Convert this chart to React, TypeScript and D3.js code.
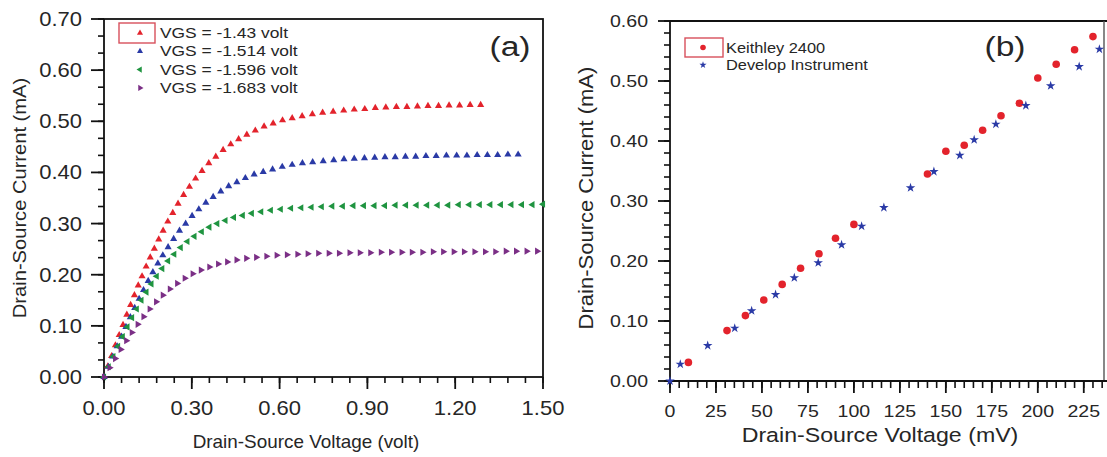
import React from "react";
import * as d3 from "d3";

// ---------- Panel (a) data: Vds (volt) / Id (mA) ----------
const vRed = [0, 0.013, 0.026, 0.039, 0.052, 0.065, 0.078, 0.091, 0.104, 0.117, 0.13, 0.144, 0.158, 0.172, 0.187, 0.202, 0.218, 0.235, 0.253, 0.272, 0.292, 0.313, 0.335, 0.358, 0.382, 0.407, 0.433, 0.46, 0.488, 0.517, 0.547, 0.578, 0.61, 0.643, 0.677, 0.712, 0.747, 0.783, 0.819, 0.855, 0.891, 0.927, 0.963, 0.999, 1.035, 1.071, 1.107, 1.143, 1.179, 1.215, 1.251, 1.287];
const iRed = [0, 0.021, 0.041, 0.062, 0.082, 0.102, 0.122, 0.141, 0.160, 0.179, 0.197, 0.216, 0.234, 0.251, 0.269, 0.286, 0.304, 0.321, 0.339, 0.356, 0.372, 0.388, 0.403, 0.418, 0.431, 0.444, 0.455, 0.465, 0.474, 0.482, 0.490, 0.496, 0.502, 0.506, 0.510, 0.514, 0.517, 0.519, 0.521, 0.523, 0.524, 0.526, 0.527, 0.528, 0.528, 0.529, 0.530, 0.530, 0.531, 0.531, 0.532, 0.532];

const vBlue = [0, 0.015, 0.03, 0.045, 0.06, 0.075, 0.09, 0.105, 0.12, 0.135, 0.151, 0.167, 0.184, 0.201, 0.219, 0.238, 0.258, 0.279, 0.301, 0.324, 0.348, 0.373, 0.399, 0.426, 0.454, 0.483, 0.513, 0.544, 0.576, 0.609, 0.643, 0.678, 0.713, 0.749, 0.785, 0.82, 0.855, 0.89, 0.925, 0.96, 0.995, 1.03, 1.065, 1.1, 1.135, 1.17, 1.205, 1.24, 1.275, 1.31, 1.345, 1.38, 1.415];
const iBlue = [0, 0.020, 0.040, 0.060, 0.079, 0.098, 0.117, 0.135, 0.153, 0.170, 0.188, 0.205, 0.222, 0.238, 0.254, 0.270, 0.286, 0.300, 0.315, 0.328, 0.341, 0.352, 0.363, 0.373, 0.381, 0.389, 0.396, 0.401, 0.406, 0.411, 0.415, 0.418, 0.420, 0.422, 0.424, 0.426, 0.427, 0.428, 0.429, 0.430, 0.430, 0.431, 0.431, 0.432, 0.432, 0.433, 0.433, 0.433, 0.434, 0.434, 0.434, 0.435, 0.435];

const vGreen = [0, 0.016, 0.032, 0.048, 0.064, 0.08, 0.096, 0.112, 0.128, 0.145, 0.162, 0.18, 0.199, 0.219, 0.24, 0.262, 0.285, 0.309, 0.334, 0.36, 0.387, 0.415, 0.444, 0.474, 0.505, 0.537, 0.57, 0.604, 0.639, 0.674, 0.709, 0.744, 0.78, 0.816, 0.852, 0.888, 0.924, 0.96, 0.996, 1.032, 1.068, 1.104, 1.14, 1.176, 1.212, 1.248, 1.284, 1.32, 1.356, 1.392, 1.428, 1.464, 1.5];
const iGreen = [0, 0.020, 0.040, 0.060, 0.079, 0.098, 0.116, 0.133, 0.150, 0.166, 0.182, 0.197, 0.212, 0.227, 0.240, 0.253, 0.265, 0.275, 0.284, 0.293, 0.300, 0.306, 0.312, 0.316, 0.320, 0.323, 0.326, 0.328, 0.330, 0.331, 0.332, 0.333, 0.334, 0.334, 0.335, 0.335, 0.335, 0.335, 0.336, 0.336, 0.336, 0.336, 0.336, 0.336, 0.337, 0.337, 0.337, 0.337, 0.337, 0.337, 0.337, 0.337, 0.338];

const vPurple = [0, 0.019, 0.038, 0.057, 0.076, 0.095, 0.115, 0.135, 0.156, 0.178, 0.201, 0.225, 0.25, 0.276, 0.303, 0.331, 0.36, 0.39, 0.421, 0.453, 0.486, 0.52, 0.555, 0.59, 0.625, 0.661, 0.696, 0.732, 0.768, 0.803, 0.839, 0.874, 0.91, 0.946, 0.981, 1.017, 1.052, 1.088, 1.124, 1.159, 1.195, 1.23, 1.266, 1.302, 1.337, 1.373, 1.408, 1.444, 1.48];
const iPurple = [0, 0.018, 0.036, 0.054, 0.071, 0.087, 0.103, 0.118, 0.133, 0.147, 0.160, 0.172, 0.183, 0.193, 0.202, 0.209, 0.215, 0.221, 0.225, 0.229, 0.232, 0.234, 0.236, 0.238, 0.239, 0.240, 0.241, 0.242, 0.242, 0.242, 0.243, 0.243, 0.243, 0.244, 0.244, 0.244, 0.244, 0.244, 0.245, 0.245, 0.245, 0.245, 0.245, 0.245, 0.245, 0.246, 0.246, 0.246, 0.246];

const legendA = ["VGS = -1.43 volt", "VGS = -1.514 volt", "VGS = -1.596 volt", "VGS = -1.683 volt"];
const xTicksA = [0, 0.3, 0.6, 0.9, 1.2, 1.5];
const yTicksA = [0, 0.1, 0.2, 0.3, 0.4, 0.5, 0.6, 0.7];

// ---------- Panel (b) data: Vds (mV) / Id (mA) ----------
const keithleyV = [10, 31, 41, 51, 61, 71, 81, 90, 100, 140, 150, 160, 170, 180, 190, 200, 210, 220, 230];
const keithleyI = [0.031, 0.084, 0.109, 0.135, 0.161, 0.188, 0.212, 0.238, 0.261, 0.345, 0.383, 0.393, 0.418, 0.442, 0.463, 0.505, 0.528, 0.552, 0.574];
const developV = [0, 5.6, 20.5, 35.2, 44.4, 57.4, 67.6, 80.6, 93.3, 104.2, 116.3, 130.8, 143.5, 157.6, 165.4, 177.2, 193.5, 207, 222.5, 233.5];
const developI = [0, 0.028, 0.059, 0.088, 0.117, 0.144, 0.172, 0.197, 0.227, 0.258, 0.289, 0.322, 0.349, 0.376, 0.402, 0.428, 0.459, 0.492, 0.524, 0.553];

const legendB = ["Keithley 2400", "Develop Instrument"];
const xTicksB = [0, 25, 50, 75, 100, 125, 150, 175, 200, 225];
const yTicksB = [0, 0.1, 0.2, 0.3, 0.4, 0.5, 0.6];

const FONT = "'Liberation Sans', Arial, Helvetica, sans-serif";
const RED = "#e3232c";
const BLUE = "#2a3aa6";
const GREEN = "#1f9440";
const PURPLE = "#7b2f86";
const TXT = "#262626";
const AX = "#111";

type Series = { v: number[]; i: number[]; color: string; rot: number };

const seriesA: Series[] = [
  { v: vRed, i: iRed, color: RED, rot: 0 },
  { v: vBlue, i: iBlue, color: BLUE, rot: 0 },
  { v: vGreen, i: iGreen, color: GREEN, rot: -90 },
  { v: vPurple, i: iPurple, color: PURPLE, rot: 90 },
];

function range(a: number, b: number, s: number) {
  const out: number[] = [];
  const n = Math.round((b - a) / s);
  for (let k = 0; k <= n; k++) out.push(a + k * s);
  return out;
}

function SText(props: {
  x: number;
  y: number;
  size: number;
  sx?: number;
  anchor?: string;
  rot?: number;
  children: React.ReactNode;
}) {
  const { x, y, size, sx = 1.15, anchor = "start", rot = 0, children } = props;
  return (
    <text
      transform={`translate(${x},${y}) rotate(${rot}) scale(${sx},1)`}
      fontSize={size}
      textAnchor={anchor}
      fill={TXT}
    >
      {children}
    </text>
  );
}

export default function App() {
  const xA = d3.scaleLinear().domain([0, 1.5]).range([104, 543]);
  const yA = d3.scaleLinear().domain([0, 0.7]).range([377, 19]);
  const xB = d3.scaleLinear().domain([0, 236]).range([670, 1104]);
  const yB = d3.scaleLinear().domain([0, 0.6]).range([381, 21]);

  const tri = d3.symbol().type(d3.symbolTriangle).size(22)() as string;
  const star = d3.symbol().type(d3.symbolStar).size(28)() as string;

  const minorXA = range(0, 1.5, 0.06);
  const minorYA = range(0, 0.7, 0.1 / 3);
  const minorXB = range(0, 235, 5);
  const minorYB = range(0, 0.6, 0.02);

  return (
    <svg
      width={1107}
      height={457}
      style={{ position: "absolute", left: 0, top: 0, background: "#fff" }}
      fontFamily={FONT}
    >
      <rect x={0} y={0} width={1107} height={457} fill="#fff" />

      {/* ================= Panel (a) ================= */}
      <g>
        <rect x={104} y={19} width={439} height={358} fill="none" stroke={AX} strokeWidth={1.8} />
        {minorXA.map((t, k) => (
          <line key={"mxa" + k} x1={xA(t)} x2={xA(t)} y1={377} y2={383} stroke={AX} strokeWidth={1.6} />
        ))}
        {xTicksA.map((t) => (
          <g key={"xa" + t}>
            <line x1={xA(t)} x2={xA(t)} y1={377} y2={389} stroke={AX} strokeWidth={1.8} />
            <SText x={xA(t)} y={415} size={20} sx={1.1} anchor="middle">
              {t.toFixed(2)}
            </SText>
          </g>
        ))}
        {minorYA.map((t, k) => (
          <line key={"mya" + k} x1={98} x2={104} y1={yA(t)} y2={yA(t)} stroke={AX} strokeWidth={1.6} />
        ))}
        {yTicksA.map((t) => (
          <g key={"ya" + t}>
            <line x1={91} x2={104} y1={yA(t)} y2={yA(t)} stroke={AX} strokeWidth={1.8} />
            <SText x={82} y={yA(t) + 7} size={20} sx={1.1} anchor="end">
              {t.toFixed(2)}
            </SText>
          </g>
        ))}
        <SText x={306} y={448} size={18} sx={1.05} anchor="middle">
          Drain-Source Voltage (volt)
        </SText>
        <SText x={26} y={198} size={19} sx={1.06} anchor="middle" rot={-90}>
          Drain-Source Current (mA)
        </SText>
        <SText x={510} y={56} size={28} sx={1.2} anchor="middle">
          (a)
        </SText>

        {seriesA.map((s, si) => (
          <g key={"sa" + si}>
            {s.v.map((v, k) => (
              <path
                key={k}
                d={tri}
                fill={s.color}
                transform={`translate(${xA(v)},${yA(s.i[k])}) rotate(${s.rot})`}
              />
            ))}
          </g>
        ))}

        {/* legend a */}
        <rect x={119} y={23} width={36} height={20} fill="none" stroke="#d8505c" strokeWidth={1.4} />
        {legendA.map((lab, k) => (
          <g key={"la" + k}>
            <path
              d={d3.symbol().type(d3.symbolTriangle).size(16)() as string}
              fill={seriesA[k].color}
              transform={`translate(140,${33 + k * 18.3}) rotate(${seriesA[k].rot})`}
            />
            <SText x={160} y={38 + k * 18.3} size={14.5} sx={1.2}>
              {lab}
            </SText>
          </g>
        ))}
      </g>

      {/* ================= Panel (b) ================= */}
      <g>
        <line x1={670} x2={1107} y1={21} y2={21} stroke={AX} strokeWidth={1.8} />
        <line x1={1104} x2={1104} y1={21} y2={381} stroke="#555" strokeWidth={1.4} />
        <line x1={670} x2={670} y1={21} y2={381} stroke={AX} strokeWidth={1.8} />
        <line x1={670} x2={1107} y1={381} y2={381} stroke={AX} strokeWidth={1.8} />
        {minorXB.map((t, k) => (
          <line key={"mxb" + k} x1={xB(t)} x2={xB(t)} y1={381} y2={388} stroke={AX} strokeWidth={1.6} />
        ))}
        {xTicksB.map((t) => (
          <g key={"xb" + t}>
            <line x1={xB(t)} x2={xB(t)} y1={381} y2={393} stroke={AX} strokeWidth={1.8} />
            <SText x={xB(t)} y={417} size={17} sx={1.15} anchor="middle">
              {t}
            </SText>
          </g>
        ))}
        {minorYB.map((t, k) => (
          <line key={"myb" + k} x1={664} x2={670} y1={yB(t)} y2={yB(t)} stroke={AX} strokeWidth={1.6} />
        ))}
        {yTicksB.map((t) => (
          <g key={"yb" + t}>
            <line x1={658} x2={670} y1={yB(t)} y2={yB(t)} stroke={AX} strokeWidth={1.8} />
            <SText x={648} y={yB(t) + 6} size={17} sx={1.15} anchor="end">
              {t.toFixed(2)}
            </SText>
          </g>
        ))}
        <SText x={880} y={442} size={20.5} sx={1.13} anchor="middle">
          Drain-Source Voltage (mV)
        </SText>
        <SText x={593} y={198} size={20} sx={1.1} anchor="middle" rot={-90}>
          Drain-Source Current (mA)
        </SText>
        <SText x={1005} y={56} size={28} sx={1.2} anchor="middle">
          (b)
        </SText>

        {keithleyV.map((v, k) => (
          <circle key={"kr" + k} cx={xB(v)} cy={yB(keithleyI[k])} r={3.8} fill={RED} />
        ))}
        {developV.map((v, k) => (
          <path key={"db" + k} d={star} fill={BLUE} transform={`translate(${xB(v)},${yB(developI[k])})`} />
        ))}

        {/* legend b */}
        <rect x={685} y={38} width={38} height={19} fill="none" stroke="#d8505c" strokeWidth={1.4} />
        <circle cx={703} cy={47.5} r={2.8} fill={RED} />
        <path d={d3.symbol().type(d3.symbolStar).size(16)() as string} fill={BLUE} transform="translate(703,65)" />
        {legendB.map((lab, k) => (
          <SText key={"lb" + k} x={726} y={53 + k * 17} size={14} sx={1.17}>
            {lab}
          </SText>
        ))}
      </g>
    </svg>
  );
}
